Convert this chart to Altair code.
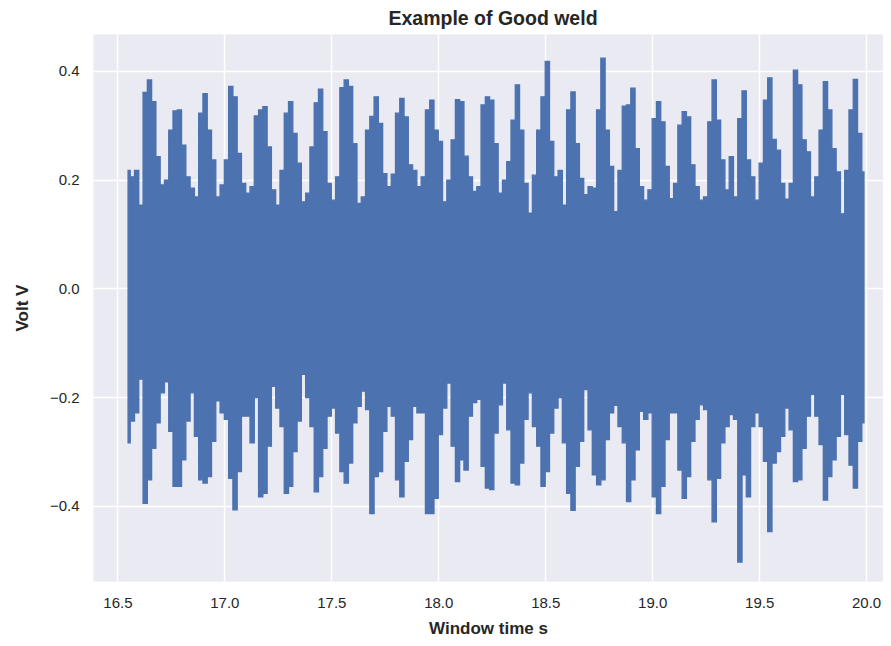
import altair as alt
import pandas as pd

# Envelope of the weld voltage signal, sampled every 0.02 s from 16.55 s
upper = [
    0.217, 0.205, 0.217, 0.153, 0.360, 0.383, 0.343, 0.242, 0.190, 0.199,
    0.291, 0.326, 0.328, 0.263, 0.205, 0.184, 0.168, 0.322, 0.358, 0.291,
    0.236, 0.168, 0.190, 0.236, 0.371, 0.352, 0.248, 0.193, 0.175, 0.187,
    0.317, 0.328, 0.334, 0.260, 0.181, 0.153, 0.217, 0.322, 0.343, 0.285,
    0.230, 0.159, 0.175, 0.260, 0.341, 0.366, 0.288, 0.193, 0.162, 0.205,
    0.369, 0.383, 0.371, 0.266, 0.156, 0.168, 0.291, 0.316, 0.352, 0.303,
    0.211, 0.187, 0.210, 0.322, 0.349, 0.315, 0.227, 0.217, 0.187, 0.205,
    0.328, 0.346, 0.291, 0.270, 0.159, 0.199, 0.273, 0.347, 0.343, 0.243,
    0.205, 0.178, 0.187, 0.337, 0.352, 0.346, 0.266, 0.175, 0.199, 0.233,
    0.309, 0.374, 0.291, 0.193, 0.138, 0.208, 0.291, 0.352, 0.417, 0.270,
    0.205, 0.217, 0.153, 0.328, 0.361, 0.266, 0.202, 0.172, 0.187, 0.184,
    0.328, 0.423, 0.291, 0.224, 0.141, 0.217, 0.335, 0.337, 0.368, 0.257,
    0.187, 0.162, 0.181, 0.312, 0.343, 0.306, 0.224, 0.165, 0.193, 0.300,
    0.325, 0.315, 0.227, 0.187, 0.162, 0.168, 0.306, 0.383, 0.309, 0.236,
    0.181, 0.242, 0.168, 0.312, 0.363, 0.236, 0.205, 0.162, 0.230, 0.346,
    0.387, 0.274, 0.254, 0.193, 0.164, 0.193, 0.401, 0.374, 0.273, 0.251,
    0.168, 0.205, 0.291, 0.380, 0.328, 0.257, 0.214, 0.137, 0.217, 0.328,
    0.384, 0.285, 0.214,
]
lower = [
    -0.284, -0.244, -0.229, -0.167, -0.395, -0.352, -0.294, -0.247, -0.192, -0.172,
    -0.263, -0.364, -0.364, -0.315, -0.244, -0.192, -0.272, -0.352, -0.358, -0.346,
    -0.281, -0.207, -0.229, -0.241, -0.349, -0.407, -0.337, -0.235, -0.235, -0.284,
    -0.201, -0.383, -0.377, -0.290, -0.180, -0.220, -0.254, -0.377, -0.364, -0.300,
    -0.244, -0.158, -0.201, -0.254, -0.374, -0.346, -0.294, -0.235, -0.220, -0.266,
    -0.337, -0.358, -0.321, -0.247, -0.217, -0.189, -0.223, -0.414, -0.346, -0.337,
    -0.263, -0.217, -0.235, -0.352, -0.383, -0.318, -0.278, -0.217, -0.229, -0.229,
    -0.414, -0.414, -0.386, -0.269, -0.220, -0.174, -0.290, -0.355, -0.315, -0.334,
    -0.235, -0.210, -0.204, -0.327, -0.367, -0.370, -0.266, -0.214, -0.174, -0.260,
    -0.358, -0.361, -0.321, -0.241, -0.192, -0.254, -0.290, -0.364, -0.337, -0.266,
    -0.220, -0.201, -0.284, -0.377, -0.408, -0.327, -0.281, -0.186, -0.260, -0.343,
    -0.361, -0.352, -0.278, -0.229, -0.215, -0.254, -0.284, -0.392, -0.352, -0.297,
    -0.226, -0.241, -0.229, -0.383, -0.414, -0.364, -0.278, -0.229, -0.229, -0.334,
    -0.386, -0.346, -0.281, -0.241, -0.214, -0.223, -0.352, -0.429, -0.349, -0.284,
    -0.254, -0.232, -0.241, -0.503, -0.343, -0.383, -0.254, -0.229, -0.254, -0.318,
    -0.447, -0.321, -0.300, -0.272, -0.220, -0.260, -0.355, -0.352, -0.294, -0.235,
    -0.195, -0.235, -0.287, -0.389, -0.346, -0.315, -0.272, -0.195, -0.269, -0.325,
    -0.367, -0.281, -0.247,
]
t_start = 16.55
t_step = 0.02
times = [round(t_start + t_step * i, 2) for i in range(len(upper))]

x_ticks = [16.5, 17.0, 17.5, 18.0, 18.5, 19.0, 19.5, 20.0]
y_ticks = [-0.4, -0.2, 0.0, 0.2, 0.4]
x_domain = [16.386, 20.079]
y_domain = [-0.5379, 0.4675]

df = pd.DataFrame({"t": times, "hi": upper, "lo": lower})

FONT = "Liberation Sans"
INK = "#262626"
BLUE = "#4C72B0"

area = alt.Chart(df).mark_area(
    interpolate="step", color=BLUE, stroke=BLUE, strokeWidth=1.3,
    opacity=1, clip=True,
).encode(
    x=alt.X("t:Q",
            scale=alt.Scale(domain=x_domain, nice=False, zero=False),
            axis=alt.Axis(values=x_ticks, format=".1f", title="Window time s",
                          labelPadding=14, titleY=47, titleBaseline="middle")),
    y=alt.Y("hi:Q",
            scale=alt.Scale(domain=y_domain, nice=False, zero=False),
            axis=alt.Axis(values=y_ticks, format=".1f", title="Volt V",
                          labelPadding=14, titleX=-71, titleBaseline="middle")),
    y2="lo:Q",
)

chart = area.properties(
    width=790,
    height=547,
    title=alt.TitleParams("Example of Good weld", font=FONT, fontSize=19.5,
                          fontWeight="bold", color=INK, anchor="middle",
                          dx=5, offset=5),
    autosize=alt.AutoSizeParams(type="none"),
    padding={"left": 85, "top": 26, "right": 0, "bottom": 56},
).configure_view(
    fill="#EAEAF2", stroke="transparent"
).configure_axis(
    grid=True, gridColor="white", gridWidth=1.4, domain=False, ticks=False,
    labelFont=FONT, labelFontSize=15, labelColor=INK,
    titleFont=FONT, titleFontSize=17, titleFontWeight="bold", titleColor=INK,
)

chart.save("out.html", embed_options={"renderer": "svg", "actions": False})
